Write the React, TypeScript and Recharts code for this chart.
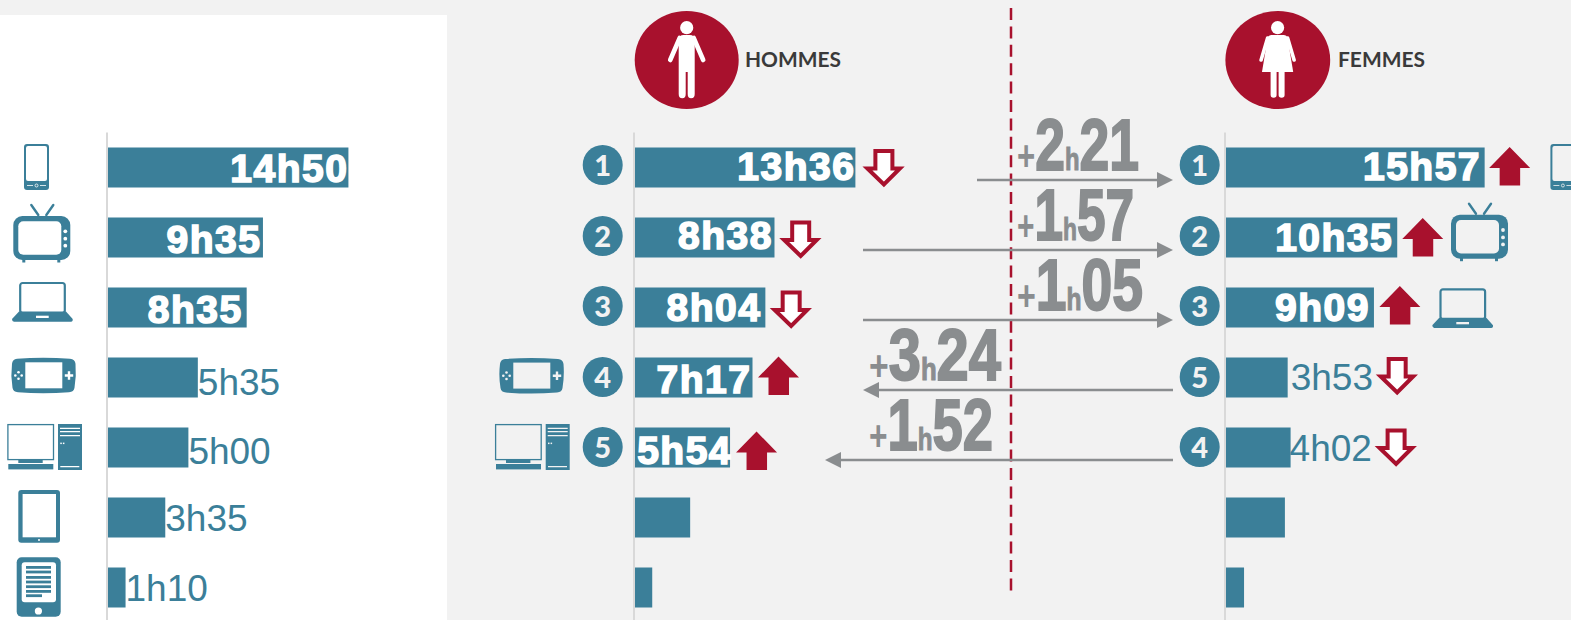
import { Bar, BarChart, LabelList, XAxis, YAxis } from 'recharts'

const TEAL = '#3b7f99'
const RED = '#a8112d'
const GREY = '#8a8d8f'

const devices = ['Smartphone', 'Télévision', 'Ordinateur portable', 'Console portable', 'Ordinateur fixe', 'Tablette', 'Liseuse']

const allHours = [14.83, 9.58, 8.58, 5.58, 5.0, 3.58, 1.14]
const allLabels = ['14h50', '9h35', '8h35', '5h35', '5h00', '3h35', '1h10']

const menHours = [13.6, 8.63, 8.07, 7.28, 5.9, 3.45, 1.12]
const menLabels = ['13h36', '8h38', '8h04', '7h17', '5h54', '', '']
const menTrend = ['down', 'down', 'down', 'up', 'up']
const menRanks = ['1', '2', '3', '4', '5']

const womenHours = [15.95, 10.58, 9.15, 3.85, 4.03, 3.68, 1.17]
const womenLabels = ['15h57', '10h35', '9h09', '3h53', '4h02', '', '']
const womenTrend = ['up', 'up', 'up', 'down', 'down']
const womenRanks = ['1', '2', '3', '5', '4']

const gaps = [
  { h: '2', m: '21' },
  { h: '1', m: '57' },
  { h: '1', m: '05' },
  { h: '3', m: '24' },
  { h: '1', m: '52' },
]

// layout tweaks, row by row
const gapLayout = [
  { x: 1017, y: 170, w: 122 },
  { x: 1017, y: 240, w: 117 },
  { x: 1017, y: 310, w: 126 },
  { x: 869, y: 380, w: 132 },
  { x: 869, y: 450, w: 124 },
]
const arrowLayout = [
  { from: 977, to: 1173, y: 180 },
  { from: 863, to: 1173, y: 250 },
  { from: 863, to: 1173, y: 320 },
  { from: 1173, to: 863, y: 390 },
  { from: 1173, to: 825, y: 460 },
]
const rowCenters = [165, 236, 306, 377, 447]

function TrendArrow({ x, cy, dir }: { x: number; cy: number; dir: string }) {
  if (dir === 'up') {
    return (
      <path
        transform={`translate(${x},${cy - 19})`}
        d="M20.5 0 L41 21 L31 21 L31 38.5 L10.5 38.5 L10.5 21 L0 21 Z"
        fill={RED}
      />
    )
  }
  return (
    <path
      transform={`translate(${x},${cy - 19})`}
      d="M12 2 L29 2 L29 19.5 L36.5 19.5 L20.5 35.5 L4 19.5 L12 19.5 Z"
      fill="#fff"
      stroke={RED}
      strokeWidth={4}
    />
  )
}

type PanelProps = {
  left: number
  hours: number[]
  labels: string[]
  inside: number
  trend?: string[]
  textDy: number[]
  pad?: number[]
  arrowDy?: number[]
  arrowGap?: number[]
}

function Panel({ left, hours, labels, inside, trend, textDy, pad, arrowDy, arrowGap }: PanelProps) {
  const data = devices.map((device, i) => ({ device, hours: hours[i], label: labels[i] }))

  const renderLabel = (props: any) => {
    const { x, y, width, height, value, index } = props
    if (!value) return null
    const end = x + width
    const cy = y + height / 2
    const isInside = index < inside
    const arrowX = end + (isInside ? (arrowGap?.[index] ?? 5.5) : (arrowGap?.[index] ?? 88))
    return (
      <g>
        {isInside ? (
          <text
            x={end - (pad?.[index] ?? 1)}
            y={cy + textDy[index]}
            textAnchor="end"
            fontFamily="'Liberation Sans', Arial, sans-serif"
            fontWeight={700}
            fontSize={39}
            letterSpacing={1.5}
            fill="#fff"
            stroke="#fff"
            strokeWidth={1.6}
          >
            {value}
          </text>
        ) : (
          <text
            x={end + (pad?.[index] ?? 0)}
            y={cy + textDy[index]}
            fontFamily="'Liberation Sans', Arial, sans-serif"
            fontSize={37}
            fill={TEAL}
          >
            {value}
          </text>
        )}
        {trend?.[index] && <TrendArrow x={arrowX} cy={cy + (arrowDy?.[index] ?? 0)} dir={trend[index]} />}
      </g>
    )
  }

  return (
    <div style={{ position: 'absolute', left: left - 2, top: 132 }}>
      <BarChart
        layout="vertical"
        width={352}
        height={491}
        data={data}
        margin={{ top: 0.5, bottom: 0.5, left: 1, right: 0 }}
        barSize={40}
      >
        <XAxis type="number" domain={[0, 21.5]} hide />
        <YAxis type="category" dataKey="device" width={1} tick={false} tickLine={false} axisLine={{ stroke: '#d9d9d9', strokeWidth: 2 }} />
        <Bar dataKey="hours" fill={TEAL} isAnimationActive={false}>
          <LabelList dataKey="label" content={renderLabel} />
        </Bar>
      </BarChart>
    </div>
  )
}

function Phone({ x, y, bg }: { x: number; y: number; bg: string }) {
  return (
    <g transform={`translate(${x},${y})`}>
      <rect width={25} height={46} rx={3} fill={TEAL} />
      <rect x={2} y={2} width={21} height={35} rx={2} fill={bg} />
      <path d="M3 41.5 H9 M16 41.5 H22" stroke={bg} strokeWidth={0.8} />
      <circle cx={12.5} cy={41.5} r={1.5} fill="none" stroke={bg} strokeWidth={0.8} />
    </g>
  )
}

function Tv({ x, y, bg }: { x: number; y: number; bg: string }) {
  return (
    <g transform={`translate(${x},${y})`}>
      <path d="M18 1 L25 11 M40 1 L33 11" stroke={TEAL} strokeWidth={2.4} strokeLinecap="round" />
      <rect y={12} width={57} height={44} rx={9} fill={TEAL} />
      <rect x={5} y={17.3} width={43} height={33.4} rx={5} fill={bg} />
      <circle cx={52} cy={27.3} r={1.9} fill={bg} />
      <circle cx={52} cy={34.7} r={1.9} fill={bg} />
      <circle cx={52} cy={41.7} r={1.9} fill={bg} />
      <rect x={9} y={55} width={3} height={3.5} fill={TEAL} />
      <rect x={44} y={55} width={3} height={3.5} fill={TEAL} />
    </g>
  )
}

function Laptop({ x, y, bg }: { x: number; y: number; bg: string }) {
  return (
    <g transform={`translate(${x},${y})`}>
      <rect x={8.2} y={1} width={44.6} height={30} rx={2.5} fill={bg} stroke={TEAL} strokeWidth={2.2} />
      <path d="M7 29.5 H54 L60.7 37 Q61 39.7 59 39.7 H2 Q0 39.7 0 37 Z" fill={TEAL} />
      <rect x={24} y={33.7} width={12.7} height={2.3} fill={bg} />
    </g>
  )
}

function Console({ x, y, bg }: { x: number; y: number; bg: string }) {
  return (
    <g transform={`translate(${x},${y})`}>
      <path
        d="M6 1 Q32 -0.8 59 1 Q64 1.5 64.5 6 Q65.5 18 63.5 30 Q63 34 58 34.5 Q32 36.6 7 34.5 Q2 34 1.5 30 Q-0.5 18 1 6 Q1.5 1.5 6 1 Z"
        fill={TEAL}
      />
      <rect x={14.3} y={4.6} width={37} height={26} fill={bg} />
      <circle cx={7.5} cy={14.5} r={1.3} fill={bg} />
      <circle cx={7.5} cy={21} r={1.3} fill={bg} />
      <circle cx={4.3} cy={17.8} r={1.3} fill={bg} />
      <circle cx={10.7} cy={17.8} r={1.3} fill={bg} />
      <path d="M58 13.5 V22 M53.8 17.8 H62.2" stroke={bg} strokeWidth={2.4} />
    </g>
  )
}

function Desktop({ x, y, bg }: { x: number; y: number; bg: string }) {
  return (
    <g transform={`translate(${x},${y})`}>
      <rect x={0.6} y={0.6} width={45.6} height={35} fill={bg} stroke={TEAL} strokeWidth={1.3} />
      <rect x={11} y={36} width={24.4} height={3} fill={TEAL} />
      <rect x={1} y={40} width={45} height={5.4} fill={TEAL} />
      <rect x={50.7} width={24} height={46} fill={TEAL} />
      <path d="M52.7 4.3 H72.7 M52.7 7.7 H72.7 M52.7 11.7 H72.7 M53 42.7 H72" stroke={bg} strokeWidth={1.2} />
      <rect x={53} y={18.6} width={1.5} height={1.5} fill={bg} />
      <rect x={55.6} y={18.6} width={1.5} height={1.5} fill={bg} />
    </g>
  )
}

function Tablet({ x, y, bg }: { x: number; y: number; bg: string }) {
  return (
    <g transform={`translate(${x},${y})`}>
      <rect width={41.7} height={52.7} rx={3} fill={TEAL} />
      <rect x={4.3} y={4} width={33.4} height={43.3} fill={bg} />
      <circle cx={20.7} cy={50} r={1} fill={bg} />
    </g>
  )
}

const readerLines = [8.7, 13.3, 18.7, 23.3, 28, 32.7]

function Reader({ x, y, bg }: { x: number; y: number; bg: string }) {
  return (
    <g transform={`translate(${x},${y})`}>
      <rect width={44} height={59.4} rx={5} fill={TEAL} />
      <rect x={5} y={5} width={34.3} height={40} rx={3} fill={bg} />
      {readerLines.map((ly) => (
        <rect key={ly} x={9.3} y={ly} width={25} height={2.8} fill={TEAL} />
      ))}
      <rect x={9.3} y={37} width={16} height={2.8} fill={TEAL} />
      <circle cx={21.7} cy={53.7} r={3.6} fill={bg} />
    </g>
  )
}

function Man({ cx }: { cx: number }) {
  return (
    <g transform={`translate(${cx},0)`} fill="#fff">
      <circle cy={27.7} r={6.6} />
      <path d="M-8 40 Q-8 35 -3 35 H3 Q8 35 8 40 V94 Q8 98.3 4.4 98.3 Q1 98.3 1 94 V72 H-1 V94 Q-1 98.3 -4.4 98.3 Q-8 98.3 -8 94 Z" />
      <path d="M-7 38 L-16.5 60 M7 38 L16.5 60" stroke="#fff" strokeWidth={4.6} strokeLinecap="round" />
    </g>
  )
}

function Woman({ cx }: { cx: number }) {
  return (
    <g transform={`translate(${cx},0)`} fill="#fff">
      <circle cy={27.7} r={6.6} />
      <path d="M-6 35 H6 Q9 35 10 38 L15.6 72 H-15.6 L-10 38 Q-9 35 -6 35 Z" />
      <path d="M-10 38 L-16.5 60 M10 38 L16.5 60" stroke="#fff" strokeWidth={3.6} strokeLinecap="round" />
      <path d="M-7 72 H-1 V95 Q-1 97.8 -4 97.8 Q-7 97.8 -7 95 Z M1 72 H7 V95 Q7 97.8 4 97.8 Q1 97.8 1 95 Z" />
    </g>
  )
}

function Overlay() {
  const bg = '#f2f2f2'
  return (
    <svg width={1571} height={620} style={{ position: 'absolute', left: 0, top: 0 }}>
      <Phone x={24} y={144} bg="#fff" />
      <Tv x={13.3} y={204} bg="#fff" />
      <Laptop x={12} y={282} bg="#fff" />
      <Console x={11} y={357.7} bg="#fff" />
      <Desktop x={7.3} y={424} bg="#fff" />
      <Tablet x={18.3} y={490} bg="#fff" />
      <Reader x={16.7} y={557.3} bg="#fff" />

      <Console x={499} y={358} bg={bg} />
      <Desktop x={495} y={424} bg={bg} />
      <Phone x={1550.4} y={144} bg={bg} />
      <Tv x={1451} y={202.7} bg={bg} />
      <Laptop x={1432.3} y={288.3} bg={bg} />

      <ellipse cx={686.7} cy={60} rx={52} ry={49} fill={RED} />
      <Man cx={686.7} />
      <text x={745} y={66.5} fontFamily="Lato, sans-serif" fontWeight={700} fontSize={21} fill="#3a3a3a" textLength={96} lengthAdjust="spacingAndGlyphs">
        HOMMES
      </text>
      <ellipse cx={1277.8} cy={60} rx={52.4} ry={49} fill={RED} />
      <Woman cx={1277.6} />
      <text x={1338} y={66.5} fontFamily="Lato, sans-serif" fontWeight={700} fontSize={21} fill="#3a3a3a" textLength={87} lengthAdjust="spacingAndGlyphs">
        FEMMES
      </text>

      {rowCenters.map((cy, i) => (
        <g key={i} fontFamily="Lato, sans-serif" fontWeight={900} fontSize={29} textAnchor="middle" fill="#f2f2f2">
          <circle cx={602.7} cy={cy} r={20} fill={TEAL} />
          <text x={602.7} y={cy + 10.5}>{menRanks[i]}</text>
          <ellipse cx={1199.7} cy={cy} rx={20} ry={20} fill={TEAL} />
          <text x={1199.7} y={cy + 10.5}>{womenRanks[i]}</text>
        </g>
      ))}

      <line x1={1011} x2={1011} y1={8} y2={592} stroke={RED} strokeWidth={2.5} strokeDasharray="12 6.4" />

      {arrowLayout.map((a, i) => {
        const dir = a.to > a.from ? 1 : -1
        return (
          <g key={i} fill={GREY}>
            <line x1={a.from} x2={a.to - dir * 15} y1={a.y} y2={a.y} stroke={GREY} strokeWidth={2.5} />
            <path d={`M${a.to} ${a.y} L${a.to - dir * 16} ${a.y - 8} L${a.to - dir * 16} ${a.y + 8} Z`} />
          </g>
        )
      })}

      {gaps.map((g, i) => (
        <text
          key={i}
          x={gapLayout[i].x}
          y={gapLayout[i].y}
          textLength={gapLayout[i].w}
          lengthAdjust="spacingAndGlyphs"
          fontFamily="'Liberation Sans Narrow', 'Liberation Sans', sans-serif"
          fontWeight={700}
          fill={GREY}
          stroke={GREY}
          strokeWidth={2}
        >
          <tspan fontSize={42} strokeWidth={0}>+</tspan>
          <tspan fontSize={72}>{g.h}</tspan>
          <tspan fontSize={32} strokeWidth={1}>h</tspan>
          <tspan fontSize={72}>{g.m}</tspan>
        </text>
      ))}
    </svg>
  )
}

export default function App() {
  return (
    <div style={{ position: 'absolute', left: 0, top: 0, width: 1571, height: 620, overflow: 'hidden', background: '#f2f2f2' }}>
      <div style={{ position: 'absolute', left: 0, top: 15, width: 447, height: 605, background: '#fff' }} />
      <Panel
        left={106.5}
        hours={allHours}
        labels={allLabels}
        inside={3}
        textDy={[14, 15, 15, 17.5, 16, 13, 13]}
        pad={[0, 1.6, 4]}
      />
      <Panel
        left={633.5}
        hours={menHours}
        labels={menLabels}
        inside={5}
        trend={menTrend}
        textDy={[12, 11, 13, 15, 16]}
        pad={[0, 1.6, 4, 1, -2]}
        arrowDy={[0.5, 2, 2, -2, 3]}
        arrowGap={[8, 5.7, 5.3, 5.5, 6]}
      />
      <Panel
        left={1225}
        hours={womenHours}
        labels={womenLabels}
        inside={3}
        trend={womenTrend}
        textDy={[12.5, 13, 13, 12, 13]}
        pad={[3.6, 4, 4, 3, -1]}
        arrowDy={[-1.5, -0.5, -2.5, -1.5, 0]}
        arrowGap={[4.5, 5, 5.4, 89, 85]}
      />
      <Overlay />
    </div>
  )
}
